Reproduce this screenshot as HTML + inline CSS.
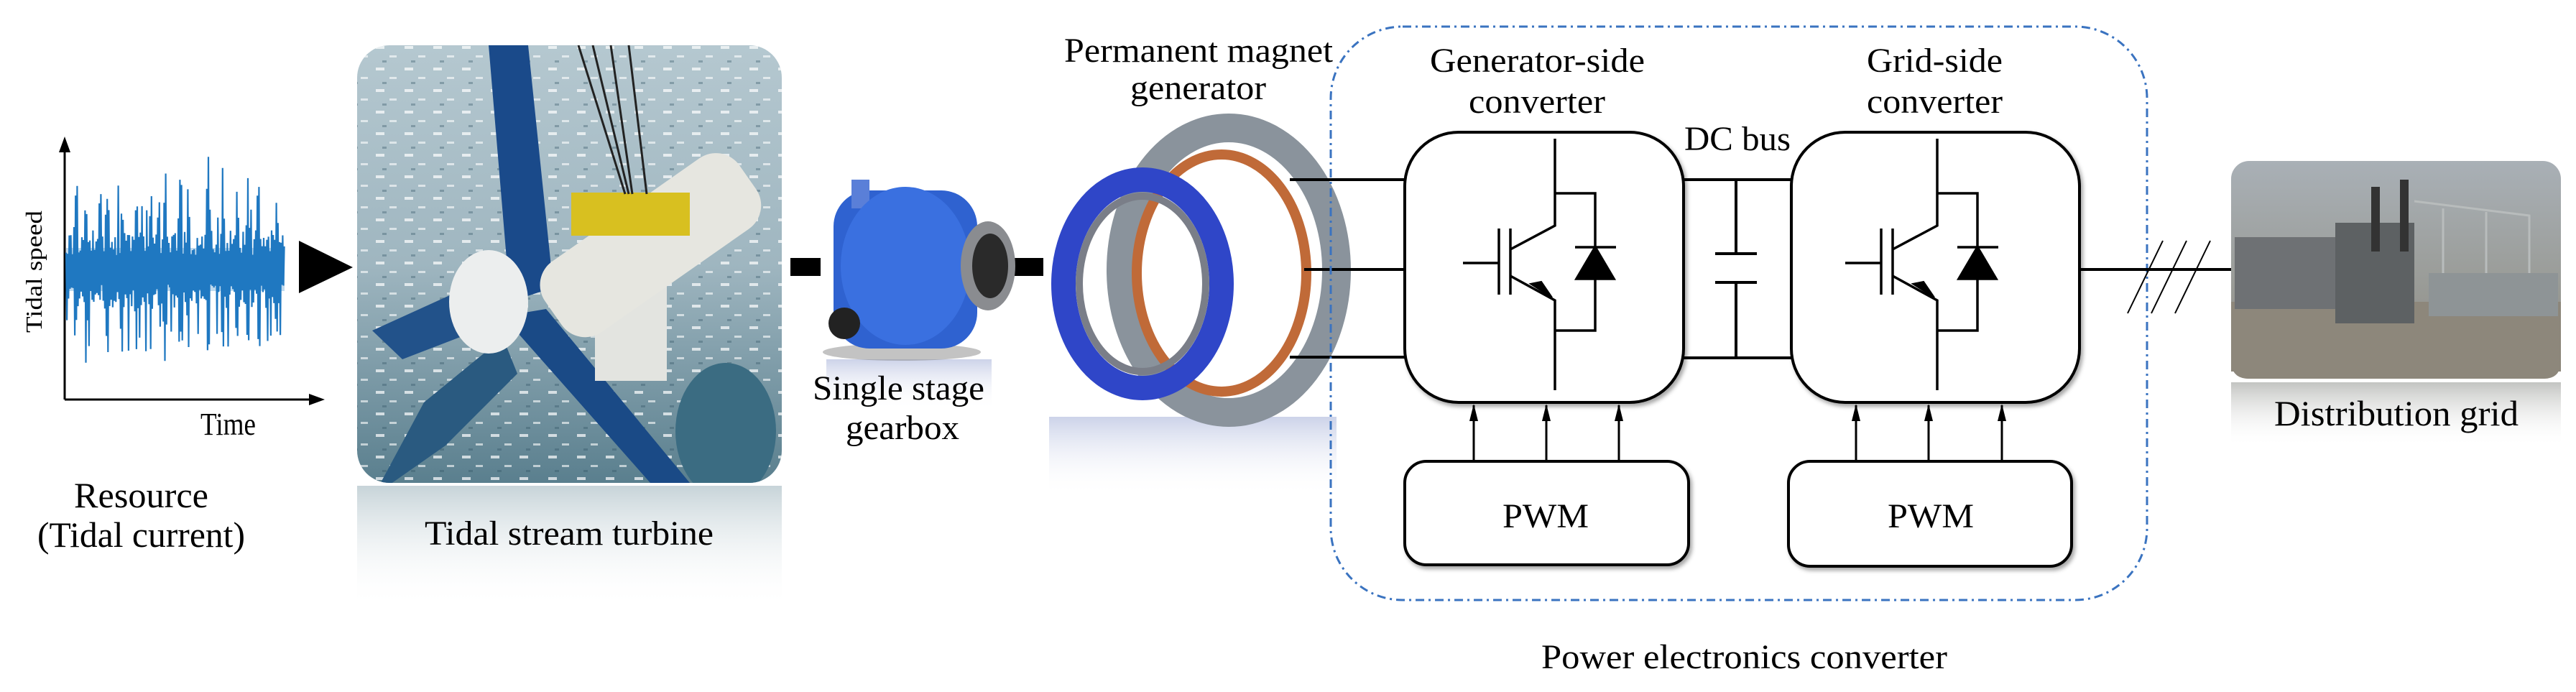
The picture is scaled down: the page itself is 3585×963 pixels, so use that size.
<!DOCTYPE html>
<html><head><meta charset="utf-8"><style>
html,body{margin:0;padding:0;background:#fff;}
svg{display:block;}
text{font-family:"Liberation Serif",serif;fill:#000;}
</style></head><body>
<svg width="3585" height="963" viewBox="0 0 3585 963" xmlns="http://www.w3.org/2000/svg">
<defs>
<linearGradient id="water" x1="0" y1="0" x2="0" y2="1">
<stop offset="0" stop-color="#b5c8d0"/><stop offset="0.5" stop-color="#9fb6c0"/><stop offset="1" stop-color="#5a7f8e"/></linearGradient>
<linearGradient id="refl" x1="0" y1="0" x2="0" y2="1">
<stop offset="0" stop-color="#b9c9cf" stop-opacity="0.8"/><stop offset="1" stop-color="#fff" stop-opacity="0"/></linearGradient>
<linearGradient id="sky" x1="0" y1="0" x2="0" y2="1">
<stop offset="0" stop-color="#a9b0b6"/><stop offset="0.55" stop-color="#9a9c98"/><stop offset="1" stop-color="#8c8a80"/></linearGradient>
<linearGradient id="refl2" x1="0" y1="0" x2="0" y2="1">
<stop offset="0" stop-color="#9a9c98" stop-opacity="0.6"/><stop offset="1" stop-color="#fff" stop-opacity="0"/></linearGradient>
<linearGradient id="refl3" x1="0" y1="0" x2="0" y2="1">
<stop offset="0" stop-color="#8090c8" stop-opacity="0.4"/><stop offset="1" stop-color="#fff" stop-opacity="0"/></linearGradient>
<clipPath id="turb"><rect x="497" y="63" width="591" height="609" rx="45"/></clipPath>
<pattern id="spark" width="40" height="30" patternUnits="userSpaceOnUse">
<rect x="3" y="4" width="12" height="4" fill="#fff" opacity="0.7"/><rect x="22" y="17" width="10" height="3" fill="#fff" opacity="0.6"/><rect x="12" y="24" width="6" height="3" fill="#2f5060" opacity="0.35"/>
</pattern>
<filter id="sh" x="-5%" y="-5%" width="110%" height="110%"><feDropShadow dx="3" dy="4" stdDeviation="3" flood-opacity="0.35"/></filter>
</defs>

<!-- Tidal speed plot -->
<line x1="90" y1="556" x2="90" y2="212" stroke="#000" stroke-width="3"/>
<path d="M82,212 L90,190 L98,212z" fill="#000"/>
<line x1="90" y1="556" x2="430" y2="556" stroke="#000" stroke-width="3"/>
<path d="M430,548 L452,556 L430,564z" fill="#000"/>
<rect x="92" y="345" width="304" height="60" fill="#2d84c8" opacity="0.3"/>
<path id="wave" d="" fill="none" stroke="#1f78c1" stroke-width="2.2"/>
<text transform="translate(58,378) rotate(-90)" font-size="32" text-anchor="middle" textLength="170" lengthAdjust="spacingAndGlyphs">Tidal speed</text>
<text x="279" y="605" font-size="44" textLength="77" lengthAdjust="spacingAndGlyphs">Time</text>
<text x="103" y="706" font-size="50" textLength="187" lengthAdjust="spacingAndGlyphs">Resource</text>
<text x="52" y="761" font-size="50" textLength="289" lengthAdjust="spacingAndGlyphs">(Tidal current)</text>

<!-- Big arrow -->
<path d="M416,335 L491,372 L416,408z" fill="#000"/>

<!-- Turbine photo -->
<rect x="497" y="676" width="591" height="170" fill="url(#refl)"/>
<g clip-path="url(#turb)">
<rect x="497" y="63" width="591" height="609" fill="url(#water)"/>
<rect x="497" y="63" width="591" height="609" fill="url(#spark)"/>
<polygon points="680,63 735,63 770,400 710,420" fill="#1a4a8a"/>
<polygon points="700,440 760,430 960,672 905,672" fill="#1a4a86"/>
<polygon points="520,690 590,560 700,470 720,520 620,620" fill="#2a5a80"/>
<polygon points="518,460 650,400 690,450 560,500" fill="#22528a"/>
<ellipse cx="1010" cy="600" rx="70" ry="95" fill="#3b6c82"/>
<rect x="828" y="395" width="100" height="135" fill="#e3e4e0"/>
<g transform="rotate(-35 907 340)"><rect x="740" y="280" width="330" height="120" rx="40" fill="#e6e6e0"/></g>
<rect x="795" y="268" width="165" height="60" fill="#d8c020"/>
<ellipse cx="680" cy="420" rx="55" ry="72" fill="#eceeee"/>
<g stroke="#222" stroke-width="3"><line x1="805" y1="63" x2="870" y2="270"/><line x1="825" y1="63" x2="875" y2="270"/><line x1="850" y1="63" x2="880" y2="270"/><line x1="875" y1="63" x2="900" y2="270"/></g>
</g>
<text x="591" y="758" font-size="48" textLength="402" lengthAdjust="spacingAndGlyphs">Tidal stream turbine</text>

<!-- Couplings -->
<rect x="1100" y="359" width="42" height="25" fill="#000"/>
<rect x="1412" y="359" width="40" height="25" fill="#000"/>

<!-- Gearbox -->
<rect x="1150" y="500" width="230" height="70" fill="url(#refl3)"/>
<ellipse cx="1255" cy="490" rx="110" ry="12" fill="#888" opacity="0.5"/>
<rect x="1160" y="265" width="200" height="220" rx="50" fill="#2f62d0"/>
<rect x="1185" y="250" width="25" height="40" fill="#5a7fd8"/>
<ellipse cx="1260" cy="370" rx="90" ry="110" fill="#3a70e0"/>
<ellipse cx="1375" cy="370" rx="38" ry="62" fill="#8a8c90"/>
<ellipse cx="1378" cy="370" rx="25" ry="45" fill="#2a2a2a"/>
<circle cx="1175" cy="450" r="22" fill="#222"/>
<text x="1131" y="556" font-size="48" textLength="239" lengthAdjust="spacingAndGlyphs">Single stage</text>
<text x="1177" y="611" font-size="48" textLength="158" lengthAdjust="spacingAndGlyphs">gearbox</text>

<!-- Generator -->
<rect x="1460" y="580" width="400" height="110" fill="url(#refl3)"/>
<ellipse cx="1710" cy="376" rx="150" ry="198" fill="none" stroke="#8a939c" stroke-width="40"/>
<ellipse cx="1700" cy="380" rx="118" ry="165" fill="none" stroke="#c06a38" stroke-width="14"/>
<ellipse cx="1590" cy="395" rx="110" ry="145" fill="none" stroke="#2f46c8" stroke-width="34"/>
<ellipse cx="1590" cy="395" rx="88" ry="122" fill="none" stroke="#7a7e88" stroke-width="10"/>
<text x="1481" y="86" font-size="48" textLength="374" lengthAdjust="spacingAndGlyphs">Permanent magnet</text>
<text x="1573" y="138" font-size="48" textLength="189" lengthAdjust="spacingAndGlyphs">generator</text>

<!-- Phase lines -->
<g stroke="#000" stroke-width="4">
<line x1="1795" y1="250" x2="1955" y2="250"/>
<line x1="1815" y1="375" x2="1955" y2="375"/>
<line x1="1795" y1="497" x2="1955" y2="497"/>
</g>

<!-- Dashed box -->
<rect x="1852" y="37" width="1136" height="798" rx="100" fill="none" stroke="#3a73c0" stroke-width="3" stroke-dasharray="12 6 3 6"/>

<!-- Converter boxes -->
<g fill="#fff" stroke="#000" stroke-width="4" filter="url(#sh)">
<rect x="1955" y="184" width="388" height="376" rx="75"/>
<rect x="2493" y="184" width="401" height="376" rx="75"/>
<rect x="1955" y="642" width="395" height="144" rx="30"/>
<rect x="2489" y="642" width="394" height="146" rx="30"/>
</g>
<!-- DC bus -->
<g stroke="#000" stroke-width="4" fill="none">
<line x1="2343" y1="250" x2="2493" y2="250"/>
<line x1="2343" y1="498" x2="2493" y2="498"/>
<line x1="2416" y1="250" x2="2416" y2="353"/>
<line x1="2416" y1="393" x2="2416" y2="498"/>
<line x1="2387" y1="353" x2="2445" y2="353"/>
<line x1="2387" y1="393" x2="2445" y2="393"/>
</g>
<!-- IGBT symbol -->
<g id="igbt" stroke="#000" stroke-width="3.5" fill="none">
<polyline points="2164,193 2164,314 2102,347"/>
<polyline points="2164,269 2220,269 2220,460 2164,460"/>
<polyline points="2102,384 2164,418 2164,543"/>
<line x1="2036" y1="366" x2="2086" y2="366"/>
<line x1="2086" y1="318" x2="2086" y2="410"/>
<line x1="2102" y1="318" x2="2102" y2="410"/>
<line x1="2192" y1="344" x2="2249" y2="344"/>
<path d="M2194,388 L2220,344 L2246,388z" fill="#000"/>
<path d="M2130,395 L2160,414 L2145,392z" fill="#000" stroke-width="2"/>
</g>
<use href="#igbt" transform="translate(532,0)"/>
<!-- PWM arrows -->
<g stroke="#000" stroke-width="3">
<line x1="2051" y1="640" x2="2051" y2="564"/><line x1="2152" y1="640" x2="2152" y2="564"/><line x1="2253" y1="640" x2="2253" y2="564"/>
<line x1="2583" y1="640" x2="2583" y2="564"/><line x1="2684" y1="640" x2="2684" y2="564"/><line x1="2786" y1="640" x2="2786" y2="564"/>
</g>
<g fill="#000">
<path d="M2045,586 L2051,562 L2057,586z"/><path d="M2146,586 L2152,562 L2158,586z"/><path d="M2247,586 L2253,562 L2259,586z"/>
<path d="M2577,586 L2583,562 L2589,586z"/><path d="M2678,586 L2684,562 L2690,586z"/><path d="M2780,586 L2786,562 L2792,586z"/>
</g>
<text x="2344" y="209" font-size="48" textLength="148" lengthAdjust="spacingAndGlyphs">DC bus</text>
<text x="1990" y="100" font-size="48" textLength="299" lengthAdjust="spacingAndGlyphs">Generator-side</text>
<text x="2044" y="157" font-size="48" textLength="190" lengthAdjust="spacingAndGlyphs">converter</text>
<text x="2598" y="100" font-size="48" textLength="189" lengthAdjust="spacingAndGlyphs">Grid-side</text>
<text x="2598" y="157" font-size="48" textLength="189" lengthAdjust="spacingAndGlyphs">converter</text>
<text x="2091" y="734" font-size="48" textLength="120" lengthAdjust="spacingAndGlyphs">PWM</text>
<text x="2627" y="734" font-size="48" textLength="120" lengthAdjust="spacingAndGlyphs">PWM</text>
<text x="2145" y="930" font-size="48" textLength="565" lengthAdjust="spacingAndGlyphs">Power electronics converter</text>

<!-- Output line -->
<line x1="2894" y1="375" x2="3105" y2="375" stroke="#000" stroke-width="4"/>
<g stroke="#000" stroke-width="2"><line x1="3010" y1="335" x2="2961" y2="436"/><line x1="3043" y1="335" x2="2994" y2="436"/><line x1="3076" y1="335" x2="3027" y2="436"/></g>

<!-- Substation -->
<rect x="3105" y="532" width="459" height="90" fill="url(#refl2)"/>
<rect x="3105" y="224" width="459" height="303" rx="25" fill="url(#sky)"/>
<rect x="3105" y="420" width="459" height="97" fill="#8d877b"/>
<path d="M3105,510 L3105,502 Q3105,527 3130,527 L3540,527 Q3564,527 3564,502 L3564,510z" fill="#8d877b"/>
<rect x="3110" y="330" width="250" height="100" fill="#6e7174"/>
<rect x="3250" y="310" width="110" height="140" fill="#5d6163"/>
<rect x="3300" y="260" width="12" height="90" fill="#333"/>
<rect x="3340" y="250" width="12" height="100" fill="#333"/>
<g stroke="#b8bcbc" stroke-width="3" fill="none"><path d="M3360,280 L3520,300 L3520,440"/><path d="M3400,290 L3400,430"/><path d="M3460,295 L3460,440"/></g>
<rect x="3380" y="380" width="180" height="60" fill="#8e9496"/>
<text x="3165" y="592" font-size="50" textLength="340" lengthAdjust="spacingAndGlyphs">Distribution grid</text>
</svg>
<script>
(function(){
var s=12345;function r(){s=(s*16807)%2147483647;return s/2147483647;}
var d="",x=92,sign=1,cy=375;
var spikes=[[120,150],[150,130],[190,140],[230,165],[262,135],[290,165],[330,140],[360,130],[385,120],[105,120],[170,120],[210,130],[250,150],[310,150],[345,150]];
while(x<=396){
 var a=20+r()*35;
 for(var i=0;i<spikes.length;i++){var dx=Math.abs(x-spikes[i][0]);if(dx<3){a=Math.max(a,spikes[i][1]*(1-dx/4)*(0.8+0.2*r()));}}
 if(r()<0.12)a=70+r()*50;
 var y=cy-sign*a;
 d+=(d?"L":"M")+x.toFixed(1)+","+y.toFixed(1);
 sign=-sign;x+=1.1;
}
document.getElementById("wave").setAttribute("d",d);
})();
</script>
</body></html>
